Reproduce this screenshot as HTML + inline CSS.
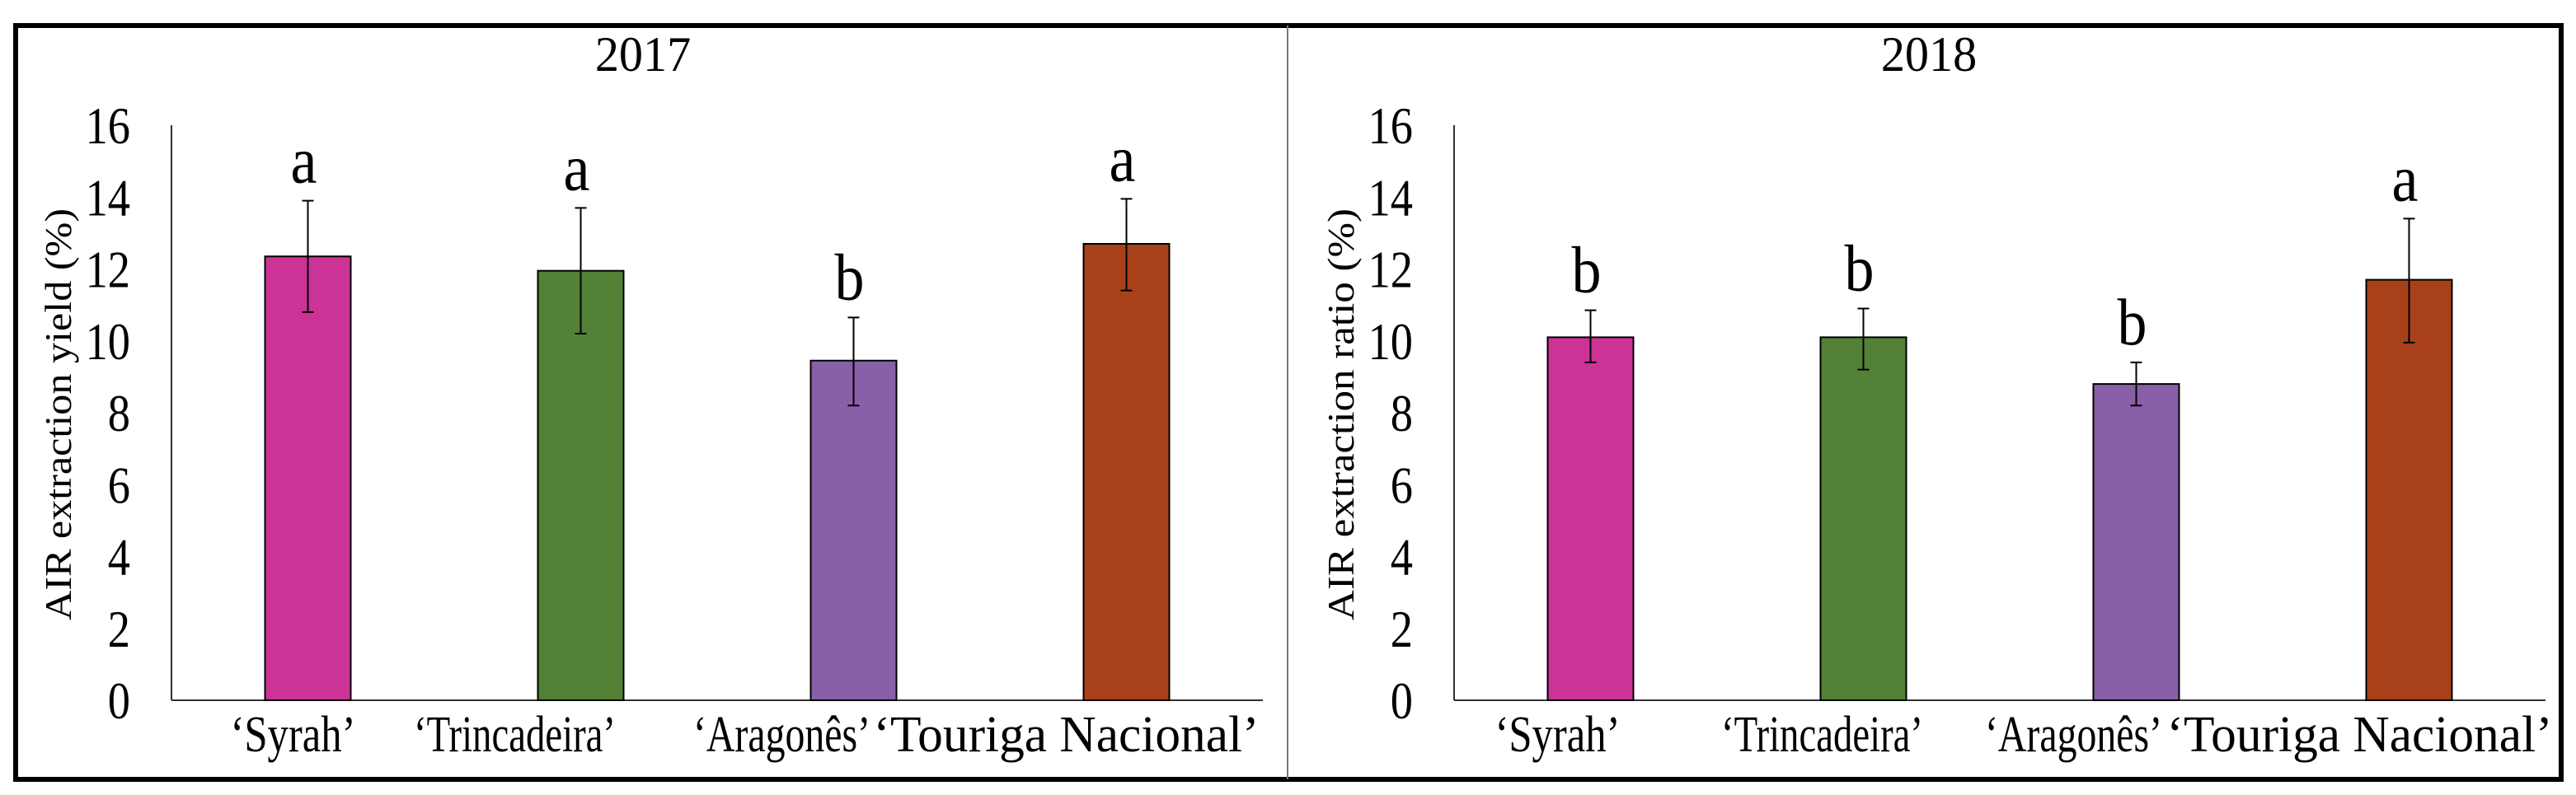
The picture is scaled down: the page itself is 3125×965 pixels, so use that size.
<!DOCTYPE html>
<html><head><meta charset="utf-8"><style>
html,body{margin:0;padding:0;background:#fff;}
svg{display:block;}
text{font-family:"Liberation Serif","DejaVu Serif",serif;}
</style></head><body>
<svg id="chart" width="3125" height="965" viewBox="0 0 3125 965" xmlns="http://www.w3.org/2000/svg">
<rect x="19" y="31" width="3088" height="915" fill="#fff" stroke="#000" stroke-width="6"/>
<line x1="1562" y1="31" x2="1562" y2="946" stroke="#777" stroke-width="2"/>
<g id="plots"></g>
</svg>
<script>
const categories = ["‘Syrah’", "‘Trincadeira’", "‘Aragonês’", "‘Touriga Nacional’"];
const colors = ["#cc3397", "#538135", "#8760a8", "#a8411a"];
const years = ["2017", "2018"];
const values2017 = [12.35, 11.95, 9.45, 12.7];
const errLow2017 = [10.8, 10.2, 8.2, 11.4];
const errHigh2017 = [13.9, 13.7, 10.65, 13.95];
const letters2017 = ["a", "a", "b", "a"];
const values2018 = [10.1, 10.1, 8.8, 11.7];
const errLow2018 = [9.4, 9.2, 8.2, 9.95];
const errHigh2018 = [10.85, 10.9, 9.4, 13.4];
const letters2018 = ["b", "b", "b", "a"];
const yTicks = [0, 2, 4, 6, 8, 10, 12, 14, 16];
const yTitles = ["AIR extraction yield (%)", "AIR extraction ratio (%)"];

const NS = "http://www.w3.org/2000/svg";
const root = document.getElementById('plots');
function mk(tag, attrs, parent, text){
  const e = document.createElementNS(NS, tag);
  for (const k in attrs) e.setAttribute(k, attrs[k]);
  if (text !== undefined) e.textContent = text;
  parent.appendChild(e);
  return e;
}
function txt(parent, x, y, size, anchor, str, sx){
  return mk('text', {x: 0, y: 0, 'font-size': size, 'text-anchor': anchor, fill: '#000',
    transform: `translate(${x},${y}) scale(${sx},1)`}, parent, str);
}
const labelLen = [152, 245, 215, 468];
const labelOffsets = [[-18, -80, -87, -73], [-40, -50, -76, -60]];
const panels = [
  {x0: 208, vals: values2017, lo: errLow2017, hi: errHigh2017, let: letters2017, titleX: 780, yTitleX: 86},
  {x0: 1764, vals: values2018, lo: errLow2018, hi: errHigh2018, let: letters2018, titleX: 2340, yTitleX: 1642}
];
const yBase = 850, yTop = 152, plotW = 1324;
function yScale(v){ return yBase - v / 16 * (yBase - yTop); }

panels.forEach((p, pi) => {
  const g = mk('g', {}, root);
  
  
  const xScale = i => p.x0 + plotW / categories.length * (i + 0.5);
  const t = txt(g, p.titleX, 86, 60, 'middle', years[pi], 0.97);
  
  
  const ya = mk('line', {x1: p.x0, y1: yTop, x2: p.x0, y2: yBase, stroke: '#333', 'stroke-width': 2}, g);
  
  
  const xa = mk('line', {x1: p.x0, y1: yBase, x2: p.x0 + plotW, y2: yBase, stroke: '#333', 'stroke-width': 2}, g);
  
  
  yTicks.forEach(v => {
    const tl = txt(g, p.x0 - 50, yScale(v) + 22, 64, 'end', String(v), 0.85);
    
    
  });
  const yt = mk('text', {x: 0, y: 0, 'font-size': 46, 'text-anchor': 'middle', textLength: 500, lengthAdjust: 'spacingAndGlyphs', transform: `translate(${p.yTitleX},${(yBase + yTop) / 2 + 2}) rotate(-90)`}, g, yTitles[pi]);
  
  
  categories.forEach((c, i) => {
    const cx = xScale(i), bw = 104;
    const b = mk('rect', {x: cx - bw / 2, y: yScale(p.vals[i]), width: bw, height: yBase - yScale(p.vals[i]), fill: colors[i], stroke: '#000', 'stroke-width': 2}, g);
    
    
    const e = mk('path', {d: `M${cx},${yScale(p.hi[i])}V${yScale(p.lo[i])}M${cx - 7},${yScale(p.hi[i])}H${cx + 7}M${cx - 7},${yScale(p.lo[i])}H${cx + 7}`, stroke: '#000', 'stroke-width': 2, fill: 'none'}, g);
    
    
    const l = txt(g, cx - 5, yScale(p.hi[i]) - 22, 80, 'middle', p.let[i], 0.9);
    
    
    const cl = mk('text', {x: cx + labelOffsets[pi][i], y: 912, 'font-size': 62, 'text-anchor': 'middle', textLength: labelLen[i], lengthAdjust: 'spacingAndGlyphs'}, g, c);
    
    
  });
});
</script>
</body></html>
